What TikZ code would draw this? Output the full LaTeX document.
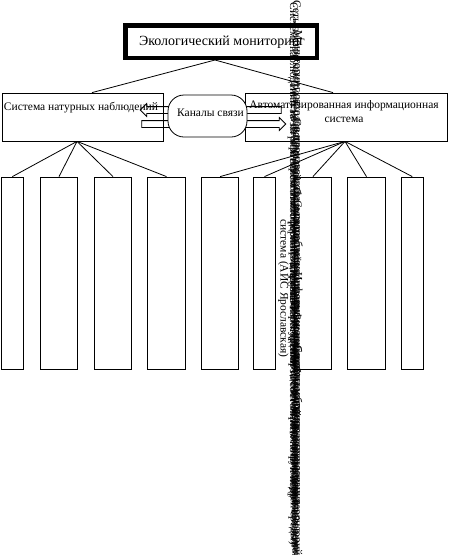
\documentclass[tikz,border=0pt]{standalone}
\usepackage{fontspec}
\setmainfont{Liberation Serif}
\usetikzlibrary{positioning,calc,shapes.arrows}
\tikzset{font=\fontsize{11.5}{13.5}\selectfont}
\tikzset{every node/.append style={inner sep=0pt}}
\tikzset{box/.style={draw,line width=0.8pt},
  subbox/.style={box,minimum height=192pt},
  blockarrow/.style={single arrow,draw,line width=0.8pt,inner xsep=0pt,
    inner ysep=3pt,single arrow head extend=3pt},
  vtext/.style={rotate=-90,anchor=west}}

\begin{document}
\begin{tikzpicture}[x=1pt,y=-1pt,line width=0.8pt]
  \useasboundingbox (0,0) rectangle (449,555);
  \node[box,line width=4.5pt,minimum width=191.5pt,minimum height=32.5pt] (mon) at (221,41.5) {};
  \node[font=\fontsize{14}{16}\selectfont] (monlbl) at (222,42) {Экологический мониторинг};
  \node[box,minimum width=161pt,minimum height=48pt] (nat) at (82.5,117) {};
  \node[box,minimum width=202pt,minimum height=48pt] (ais) at (346,117) {};
  \node (natlbl) at ($(nat.north)+(-1.5,15)$) {Система натурных наблюдений};
  \node[align=center] (aislbl) at ($(ais.north)+(-2,19)$) {Автоматизированная информационная\\система};
  \draw ($(mon.south)+(-6,0)$) -- ($(nat.north)+(9.5,0)$);
  \draw ($(mon.south)+(-6,0)$) -- ($(ais.north)+(-13,0)$);
  \node[blockarrow,shape border rotate=180,minimum height=141pt] (toNat) at (212.5,110) {};
  \node[blockarrow,minimum height=144pt] (toAis) at (212,124) {};
  \node[box,fill=white,rounded corners=16pt,minimum width=79pt,minimum height=42pt] (chan) at (207.5,116) {};
  \node (chanlbl) at ($(chan)+(3,-3)$) {Каналы связи};
  \foreach \n/\cx/\w in {1/12.4/22.2,2/59/37.4,3/113/37.4,4/166.5/38.4,5/220.1/37.2,
      6/264.5/22.4,7/312.9/37.7,8/366.5/38.4,9/412.3/22}
    \node[subbox,minimum width=\w pt] (sub\n) at (\cx,273) {};
  \foreach \n in {1,...,4}
    \draw ($(nat.south)+(-5.5,0)$) -- (sub\n.north);
  \foreach \n in {5,...,9}
    \draw ($(ais.south)+(-1,0)$) -- (sub\n.north);
  \node[vtext] (aisname) at (283.5,219) {система (АИС Ярославская)};
  \foreach \n/\cx/\cy/\txt in {
      1/293/2/Система наблюдений за загрязнением атмосферного воздуха,
      2/296/0/Сеть постов контроля радиационной обстановки,
      3/297.5/30/Мониторинг отходов производства и потребления,
      4/294/80/Система лабораторного контроля предприятий,
      5/296.5/118/Система геоинформационного картографирования,
      6/293.5/150/Система наблюдений за лесными ресурсами,
      7/297/200/Система учёта источников выбросов и сбросов,
      8/295/240/Система контроля питьевой воды и здоровья населения,
      9/293/262/Система наблюдений за состоянием почв и недр,
      10/297.5/272/Информационная система природопользования,
      11/294.5/300/Система наблюдений за животным миром области,
      12/296/312/Система наблюдений за поверхностными водами,
      13/293.5/335/(Департамент охраны окружающей среды),
      14/297/345/Система контроля охраняемых территорий,
      15/295/400/Система оповещения населения}
    \node[vtext] (col\n) at (\cx,\cy) {\txt};
\end{tikzpicture}
\end{document}
